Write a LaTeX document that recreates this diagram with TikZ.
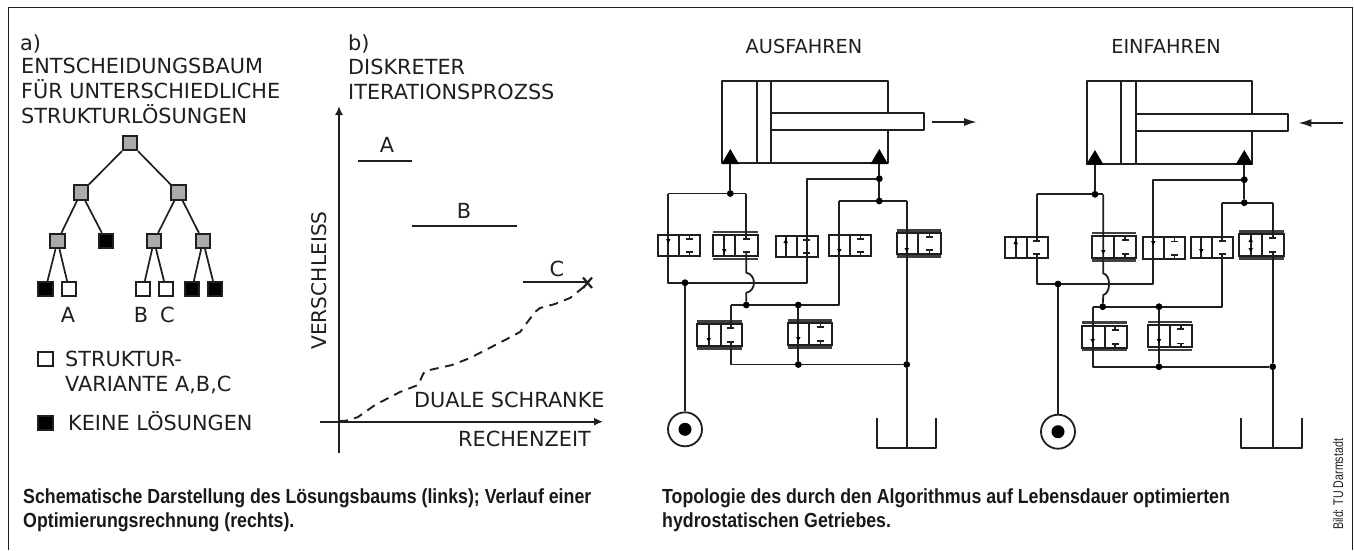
\documentclass[tikz,border=0pt]{standalone}
\usepackage{fontspec}
\setmainfont{DejaVu Sans}
\newfontfamily\capfont[FakeStretch=0.87]{Liberation Sans Bold}
\newfontfamily\credfont[FakeStretch=0.76]{Liberation Sans}
\usetikzlibrary{arrows.meta}
\definecolor{ink}{gray}{0.12}
\tikzset{
 x=1pt,y=-1pt,
 lbl/.style={inner sep=0pt,anchor=base west,font=\fontsize{20.8}{20.8}\selectfont,text=ink},
 clbl/.style={inner sep=0pt,font=\fontsize{20.8}{20.8}\selectfont,text=ink},
 hlbl/.style={inner sep=0pt,font=\fontsize{19.3}{19.3}\selectfont,text=ink},
 captxt/.style={inner sep=0pt,anchor=base west,font=\capfont\fontsize{20.4}{20.4}\selectfont,text=black!90},
 tn/.style={draw=ink,line width=1.8pt,minimum size=14.5pt,inner sep=0pt},
 gn/.style={tn,fill=black!33},
 bn/.style={tn,fill=black},
 wn/.style={tn,fill=white},
 treeedge/.style={draw=ink,line width=1.7pt},
 pipe/.style={draw=ink,line width=1.8pt,line join=round},
 jdot/.style={circle,fill=black,inner sep=0pt,minimum size=6.5pt},
 vbox/.style={draw=ink,line width=1.8pt,fill=white},
 garrow/.style={draw=ink,line width=1.7pt,-{Latex[length=9pt,width=8pt]}},
}
% valve: x0 x1 y0 y1 divider tx
\newcommand{\vlv}[6]{%
 \draw[vbox] (#1,#3) rectangle (#2,#4);
 \draw[pipe] (#5,#3) -- (#5,#4);
 \draw[draw=ink,line width=1.6pt] ({#6-3.5},{#3+4}) -- ({#6+3.5},{#3+4});
 \draw[draw=ink,line width=1.6pt] ({#6},{#3+1}) -- ({#6},{#3+4});
 \draw[draw=ink,line width=1.6pt] ({#6-3.5},{#4-4}) -- ({#6+3.5},{#4-4});
 \draw[draw=ink,line width=1.6pt] ({#6},{#4-1}) -- ({#6},{#4-4});
}
\newcommand{\bars}[4]{%
 \draw[draw=ink!85,line width=2.2pt] (#1,#3) -- (#2,#3);
 \draw[draw=ink!85,line width=2.2pt] (#1,#4) -- (#2,#4);
}
\newcommand{\thru}[3]{\draw[pipe] (#1,#2) -- (#1,#3);}
\newcommand{\mk}[2]{\fill[black] ({#1-2.3},{#2-2}) -- ({#1+2.3},{#2-2}) -- (#1,{#2+2}) -- cycle;}
\newcommand{\mku}[2]{\fill[black] ({#1-2.3},{#2+2}) -- ({#1+2.3},{#2+2}) -- (#1,{#2-2}) -- cycle;}
\begin{document}
\begin{tikzpicture}
\useasboundingbox (0,0) rectangle (1354,550);
\fill[white] (0,0) rectangle (1354,550);
% frame
\draw[draw=ink,line width=1pt] (8.5,550) -- (8.5,7.5) -- (1352.5,7.5) -- (1352.5,550);

% ---- a) text
\node[lbl] (ta) at (20,50) {a)};
\node[lbl] (t1) at (21,73.5) {ENTSCHEIDUNGSBAUM};
\node[lbl] (t2) at (21,98.5) {FÜR UNTERSCHIEDLICHE};
\node[lbl] (t3) at (21,123.5) {STRUKTURLÖSUNGEN};
% tree
\node[gn] (r) at (130,143) {};
\node[gn] (l) at (81,192.5) {};
\node[gn] (m) at (178.5,192.5) {};
\node[gn] (ll) at (57.5,241) {};
\node[bn] (lr) at (106,241) {};
\node[gn] (ml) at (154,241) {};
\node[gn] (mr) at (203,241) {};
\node[bn] (a1) at (45.5,289) {};
\node[wn] (a2) at (69,289) {};
\node[wn] (b1) at (143,289) {};
\node[wn] (b2) at (166,289) {};
\node[bn] (c1) at (192,289) {};
\node[bn] (c2) at (215,289) {};
\draw[treeedge] (r)--(l); \draw[treeedge] (r)--(m);
\draw[treeedge] (l)--(ll); \draw[treeedge] (l)--(lr);
\draw[treeedge] (m)--(ml); \draw[treeedge] (m)--(mr);
\draw[treeedge] (ll)--(a1); \draw[treeedge] (ll)--(a2);
\draw[treeedge] (ml)--(b1); \draw[treeedge] (ml)--(b2);
\draw[treeedge] (mr)--(c1); \draw[treeedge] (mr)--(c2);
\node[clbl] (lA) at (68,314.5) {A};
\node[clbl] (lB) at (141,315) {B};
\node[clbl] (lC) at (167.5,314.5) {C};
\node[wn] (lw) at (45.5,359) {};
\node[lbl] (lw1) at (65,366.7) {STRUKTUR-};
\node[lbl] (lw2) at (65,391.7) {VARIANTE A,B,C};
\node[bn] (lb) at (45.5,423) {};
\node[lbl] (lb1) at (68,430.5) {KEINE LÖSUNGEN};

% ---- b) chart
\node[lbl] (tb) at (348,50) {b)};
\node[lbl] (tb1) at (348,74) {DISKRETER};
\node[lbl] (tb2) at (348,99.3) {ITERATIONSPROZSS};
\coordinate (yb) at (339,453); \coordinate (yt) at (339,106);
\coordinate (xl) at (320,421.7); \coordinate (xr) at (603,421.7);
\draw[garrow] (yb) -- (yt);
\draw[garrow] (xl) -- (xr);
\node[clbl,rotate=90,font=\fontsize{20.2}{20.2}\selectfont] (vs) at (319,280.5) {VERSCHLEISS};
\coordinate (A1) at (358,161); \coordinate (A2) at (412,161);
\coordinate (B1) at (412,226); \coordinate (B2) at (517,226);
\coordinate (C1) at (523,282); \coordinate (C2) at (586,282);
\draw[treeedge,line width=1.9pt] (A1)--(A2);
\draw[treeedge,line width=1.9pt] (B1)--(B2);
\draw[treeedge,line width=1.9pt] (C1)--(C2);
\node[clbl] (nA) at (387,145) {A};
\node[clbl] (nB) at (464,210.7) {B};
\node[clbl] (nC) at (557,269) {C};
\draw[treeedge,line width=2.2pt] (583,277.5)--(592,288) (592,277.5)--(583,288);
\draw[treeedge,line width=1.9pt,dash pattern=on 9pt off 6.5pt] (339,421) .. controls (350,421) and (352,419) .. (358,417) -- (375,405) -- (400,392) -- (418,385) .. controls (421,380) and (422,375) .. (425,371) -- (452,365) -- (470,358) -- (505,340) -- (520,332) -- (535,312) -- (540,308) -- (555,304) -- (570,298) -- (585,286);
\node[lbl] (du) at (414,407.3) {DUALE SCHRANKE};
\node[lbl] (re) at (458,446.7) {RECHENZEIT};

% ---- Ausfahren
\node[hlbl] (aus) at (804,46) {AUSFAHREN};
\coordinate (c1l) at (730.3,163); \coordinate (c1r) at (879.3,163);
\node[jdot] (j1) at (730.3,193.5) {};
\coordinate (p1a) at (668.3,193.5); \coordinate (p1b) at (746.3,193.5);
\node[jdot] (j2) at (879.3,178.7) {};
\node[jdot] (j3) at (879.3,201) {};
\coordinate (p3) at (806.7,178.7);
\coordinate (p4) at (839.3,201); \coordinate (p5) at (906.7,201);
\node[jdot] (j4) at (685,282.7) {};
\node[jdot] (j5) at (746.3,305) {};
\node[jdot] (j6) at (798.3,305) {};
\node[jdot] (j7) at (798.3,364.5) {};
\node[jdot] (j8) at (906.7,364.5) {};
\coordinate (p6) at (730.7,305); \coordinate (p7) at (730.7,364.5);
\node[circle,draw=ink,line width=1.8pt,minimum size=34pt,inner sep=0pt,fill=white] (pu) at (685,429.3) {};
\node[circle,fill=black,minimum size=13pt,inner sep=0pt] (pud) at (685,429.3) {};
\coordinate (tk) at (906.7,448.3);

\vlv{657.7}{700.3}{235}{256}{679.3}{689.5}
\bars{713.3}{757.7}{232}{259}
\vlv{713.3}{757.7}{235}{256}{735}{746.3}
\vlv{775.7}{817.7}{236}{257}{796.7}{806.7}
\vlv{828.7}{871.3}{235}{256}{849.7}{860.5}
\bars{896.7}{940.7}{230.5}{256.5}
\vlv{896.7}{940.7}{233}{254}{918.3}{929.5}
\bars{697.3}{741.7}{321.5}{348.5}
\vlv{697.3}{741.7}{324}{346}{720.7}{730.7}
\bars{787.7}{831.7}{320.5}{347.5}
\vlv{787.7}{831.7}{323}{345}{809.3}{820.3}
\thru{724.3}{235}{256}\mk{724.3}{251}
\thru{785.7}{236}{257}\mku{785.7}{241}
\thru{708.7}{324}{346}\mk{708.7}{340}
\draw[pipe] (c1l) -- (j1);
\draw[pipe] (p1a) -- (p1b);
\draw[pipe] (p1a) -- (668.3,282.7) -- (806.7,282.7) -- (p3) -- (j2);
\draw[pipe] (p1b) -- (746.3,239);
\draw[pipe] (746.3,252) -- (746.3,272.7) .. controls (756.5,274.5) and (756.5,291) .. (746.3,292.7) -- (j5);
\draw[pipe] (c1r) -- (j3);
\draw[pipe] (p4) -- (p5);
\draw[pipe] (p4) -- (839.3,305) -- (p6);
\draw[pipe] (p5) -- (j8);
\draw[pipe] (p6) -- (730.7,328);
\draw[pipe] (730.7,342) -- (p7) -- (j8);
\draw[pipe] (j6) -- (j7);
\draw[pipe] (j4) -- (pu);
\draw[pipe] (j8) -- (tk);
\mk{668.3}{241}\mk{839.3}{251}
\mk{798.3}{339}\mk{906.7}{250}
\node[jdot] at (j1) {}; \node[jdot] at (j2) {}; \node[jdot] at (j3) {}; \node[jdot] at (j4) {};
\node[jdot] at (j5) {}; \node[jdot] at (j6) {}; \node[jdot] at (j7) {}; \node[jdot] at (j8) {};
\draw[pipe] (877,418.3) -- (877,448.3) -- (936.3,448.3) -- (936.3,418.3);
% cylinder
\draw[pipe,fill=white] (722,80.7) rectangle (887.7,163.3);
\draw[pipe] (756.7,80.7) -- (756.7,163.3);
\draw[pipe] (771.3,80.7) -- (771.3,163.3);
\draw[pipe,fill=white] (771.3,113.3) -- (923.7,113.3) -- (923.7,129.7) -- (771.3,129.7) -- cycle;
\fill[black] (721.5,164) -- (739,164) -- (730.3,149) -- cycle;
\fill[black] (870.5,164) -- (888,164) -- (879.3,149) -- cycle;
\coordinate (ar1) at (931.7,122); \coordinate (ar2) at (977,122);
\draw[pipe,-{Latex[length=13pt,width=8pt]}] (ar1) -- (ar2);

% ---- Einfahren
\node[hlbl] (ein) at (1166,46) {EINFAHREN};
\coordinate (d1l) at (1095,164); \coordinate (d1r) at (1244.3,164);
\node[jdot] (k1) at (1095,194.3) {};
\coordinate (q1a) at (1036.7,194.3); \coordinate (q1b) at (1103.3,194.3);
\node[jdot] (k2) at (1244.3,179.7) {};
\node[jdot] (k3) at (1244.3,202.7) {};
\coordinate (q3) at (1153.3,179.7);
\coordinate (q4) at (1222.3,202.7); \coordinate (q5) at (1272.7,202.7);
\node[jdot] (k4) at (1058,284) {};
\node[jdot] (k5) at (1102.7,306.7) {};
\node[jdot] (k6) at (1159,306.7) {};
\node[jdot] (k7) at (1159,366.7) {};
\node[jdot] (k8) at (1272.7,366.7) {};
\coordinate (q6) at (1092.7,306.7); \coordinate (q7) at (1092.7,366.7);
\node[circle,draw=ink,line width=1.8pt,minimum size=34pt,inner sep=0pt,fill=white] (qu) at (1058,431.7) {};
\node[circle,fill=black,minimum size=13pt,inner sep=0pt] (qud) at (1058,431.7) {};
\coordinate (tl) at (1272.7,448.3);

\vlv{1005}{1047.7}{236.7}{257.7}{1026.7}{1036.7}
\bars{1092.3}{1136.3}{233}{260.5}
\vlv{1092.3}{1136.3}{236}{258}{1114}{1125}
\vlv{1143.3}{1185.3}{237.3}{259}{1164.3}{1174.3}
\vlv{1190.7}{1233.3}{236.7}{257.7}{1211.7}{1222.3}
\bars{1239.3}{1284}{231.5}{258.5}
\vlv{1239.3}{1284}{234}{256}{1261.7}{1272.7}
\bars{1081.7}{1126.7}{322.5}{350}
\vlv{1081.7}{1126.7}{325.7}{347.7}{1104.7}{1115}
\bars{1147.7}{1192.3}{322}{350}
\vlv{1147.7}{1192.3}{325}{347.3}{1170}{1180.7}
\thru{1015.7}{236.7}{257.7}\mku{1015.7}{242}
\thru{1201.3}{236.7}{257.7}\mk{1201.3}{251}
\thru{1250.7}{234}{256}\mk{1250.7}{250}\mku{1250.7}{240}
\draw[pipe] (d1l) -- (k1);
\draw[pipe] (q1a) -- (q1b);
\draw[pipe] (q1a) -- (1036.7,240.7);
\draw[pipe] (1036.7,253.7) -- (1036.7,284) -- (1153.3,284) -- (q3) -- (k2);
\draw[pipe] (q1b) -- (1103.3,273.5) .. controls (1111,275) and (1111,293) .. (1103.3,295) -- (k5);
\draw[pipe] (d1r) -- (k3);
\draw[pipe] (q4) -- (q5);
\draw[pipe] (q4) -- (1222.3,240.7);
\draw[pipe] (1222.3,253.7) -- (1222.3,306.7) -- (q6);
\draw[pipe] (q5) -- (1272.7,238);
\draw[pipe] (1272.7,252) -- (k8);
\draw[pipe] (q6) -- (q7) -- (k8);
\draw[pipe] (k6) -- (k7);
\draw[pipe] (k4) -- (qu);
\draw[pipe] (k8) -- (tl);
\mk{1103.3}{252}\mk{1153.3}{243}\mk{1092.7}{341}\mk{1159}{341}
\node[jdot] at (k1) {}; \node[jdot] at (k2) {}; \node[jdot] at (k3) {}; \node[jdot] at (k4) {};
\node[jdot] at (k5) {}; \node[jdot] at (k6) {}; \node[jdot] at (k7) {}; \node[jdot] at (k8) {};
\draw[pipe] (1241.3,418.3) -- (1241.3,448.3) -- (1301.7,448.3) -- (1301.7,418.3);
\draw[pipe,fill=white] (1086.7,80.7) rectangle (1252.3,164);
\draw[pipe] (1120.7,80.7) -- (1120.7,164);
\draw[pipe] (1135.7,80.7) -- (1135.7,164);
\draw[pipe,fill=white] (1135.7,114.3) -- (1288.3,114.3) -- (1288.3,130.7) -- (1135.7,130.7) -- cycle;
\fill[black] (1086,164.7) -- (1103.5,164.7) -- (1095,150) -- cycle;
\fill[black] (1235.5,164.7) -- (1253,164.7) -- (1244.3,150) -- cycle;
\coordinate (br1) at (1342.7,123); \coordinate (br2) at (1298.3,123);
\draw[pipe,-{Latex[length=13pt,width=8pt]}] (br1) -- (br2);

% ---- captions
\node[captxt] (c1) at (23,503) {Schematische Darstellung des Lösungsbaums (links); Verlauf einer};
\node[captxt] (c2) at (23,527) {Optimierungsrechnung (rechts).};
\node[captxt] (c3) at (662,503) {Topologie des durch den Algorithmus auf Lebensdauer optimierten};
\node[captxt] (c4) at (662,527) {hydrostatischen Getriebes.};
\node[inner sep=0pt,rotate=90,anchor=base west,font=\credfont\fontsize{14}{14}\selectfont,text=ink] (cr) at (1343,530) {Bild: TU Darmstadt};
\end{tikzpicture}
\end{document}
